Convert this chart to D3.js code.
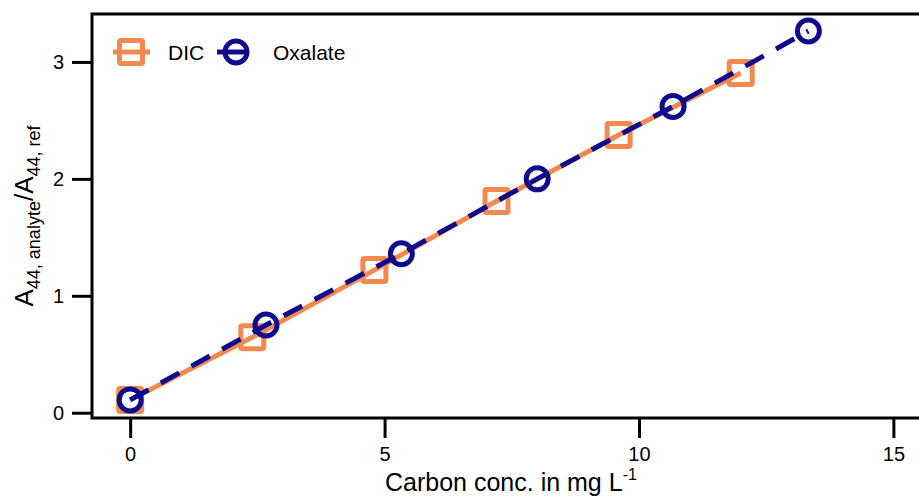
<!DOCTYPE html>
<html><head><meta charset="utf-8">
<script src="https://cdn.jsdelivr.net/npm/d3@7"></script>
<style>
html,body{margin:0;padding:0;background:#fff;}
svg{display:block;font-family:"Liberation Sans",Arial,sans-serif;}
</style></head>
<body><svg id="c" width="919" height="497"></svg>
<script>
// Data
const dicX = [0, 2.4, 4.8, 7.2, 9.6, 12];
const dicY = [0.11, 0.645, 1.22, 1.81, 2.375, 2.905];
const oxX = [0, 2.67, 5.33, 8, 10.67, 13.33];
const oxY = [0.11, 0.75, 1.36, 2.0, 2.62, 3.265];
const xTicks = [0, 5, 10, 15];
const yTicks = [0, 1, 2, 3];
const seriesNames = ["DIC", "Oxalate"];

const orange = "#F28A4F", navy = "#100A8C";
const svg = d3.select("#c");
const L = 92, T = 14, B = 418, R = 929;
const x = d3.scaleLinear().domain([-0.75, 15.7]).range([L, R]);
const y = d3.scaleLinear().domain([-0.045, 3.41]).range([B, T]);

// frame
svg.append("path").attr("d", `M${R},${T}H${L}V${B}H${R}`)
  .attr("fill", "none").attr("stroke", "#000").attr("stroke-width", 3);

const xa = svg.append("g").attr("transform", `translate(0,${B})`)
  .call(d3.axisBottom(x).tickValues(xTicks).tickSize(20).tickPadding(9).tickFormat(d3.format("d")));
const ya = svg.append("g").attr("transform", `translate(${L},0)`)
  .call(d3.axisLeft(y).tickValues(yTicks).tickSize(20).tickPadding(8).tickFormat(d3.format("d")));
[xa, ya].forEach(a => {
  a.select(".domain").remove();
  a.selectAll("line").attr("stroke", "#000").attr("stroke-width", 3);
  a.selectAll("text").attr("font-size", 20).attr("fill", "#000").attr("font-family", '"Liberation Sans",Arial,sans-serif');
});

const dic = dicX.map((v, i) => [v, dicY[i]]);
const ox = oxX.map((v, i) => [v, oxY[i]]);
const line = d3.line().x(d => x(d[0])).y(d => y(d[1]));

svg.append("path").attr("d", line(dic)).attr("fill", "none")
  .attr("stroke", orange).attr("stroke-width", 5);
svg.selectAll(".sq").data(dic).join("rect")
  .attr("x", d => x(d[0]) - 11.5).attr("y", d => y(d[1]) - 11.5)
  .attr("width", 23).attr("height", 23).attr("rx", 1.5)
  .attr("fill", "none").attr("stroke", orange).attr("stroke-width", 5);

svg.append("path").attr("d", line(ox)).attr("fill", "none")
  .attr("stroke", navy).attr("stroke-width", 5).attr("stroke-dasharray", "21,14");
svg.selectAll(".ci").data(ox).join("circle")
  .attr("cx", d => x(d[0])).attr("cy", d => y(d[1])).attr("r", 11)
  .attr("fill", "none").attr("stroke", navy).attr("stroke-width", 5);

// legend
const lg = svg.append("g");
const ly = 52;
lg.append("line").attr("x1", 113).attr("x2", 150).attr("y1", ly).attr("y2", ly)
  .attr("stroke", orange).attr("stroke-width", 5);
lg.append("rect").attr("x", 131 - 11.5).attr("y", ly - 11.5).attr("width", 23).attr("height", 23).attr("rx", 1.5)
  .attr("fill", "none").attr("stroke", orange).attr("stroke-width", 5);
lg.append("text").attr("x", 168).attr("y", ly).attr("dy", "0.36em").attr("font-size", 21).text(seriesNames[0]);
lg.append("line").attr("x1", 217).attr("x2", 247).attr("y1", ly).attr("y2", ly)
  .attr("stroke", navy).attr("stroke-width", 5);
lg.append("circle").attr("cx", 236).attr("cy", ly).attr("r", 11)
  .attr("fill", "none").attr("stroke", navy).attr("stroke-width", 5);
lg.append("text").attr("x", 273).attr("y", ly).attr("dy", "0.36em").attr("font-size", 21).text(seriesNames[1]);

// axis titles
const xt = svg.append("text").attr("x", 385).attr("y", 491).attr("font-size", 25);
xt.append("tspan").text("Carbon conc. in mg L");
xt.append("tspan").attr("font-size", 16).attr("dy", -11).text("-1");

const yt = svg.append("text").attr("transform", "translate(33,216) rotate(-90)")
  .attr("text-anchor", "middle").attr("font-size", 26);
yt.append("tspan").text("A");
yt.append("tspan").attr("font-size", 18).attr("dy", 7).text("44, analyte");
yt.append("tspan").attr("dy", -7).text("/A");
yt.append("tspan").attr("font-size", 18).attr("dy", 7).text("44, ref");
</script></body></html>
